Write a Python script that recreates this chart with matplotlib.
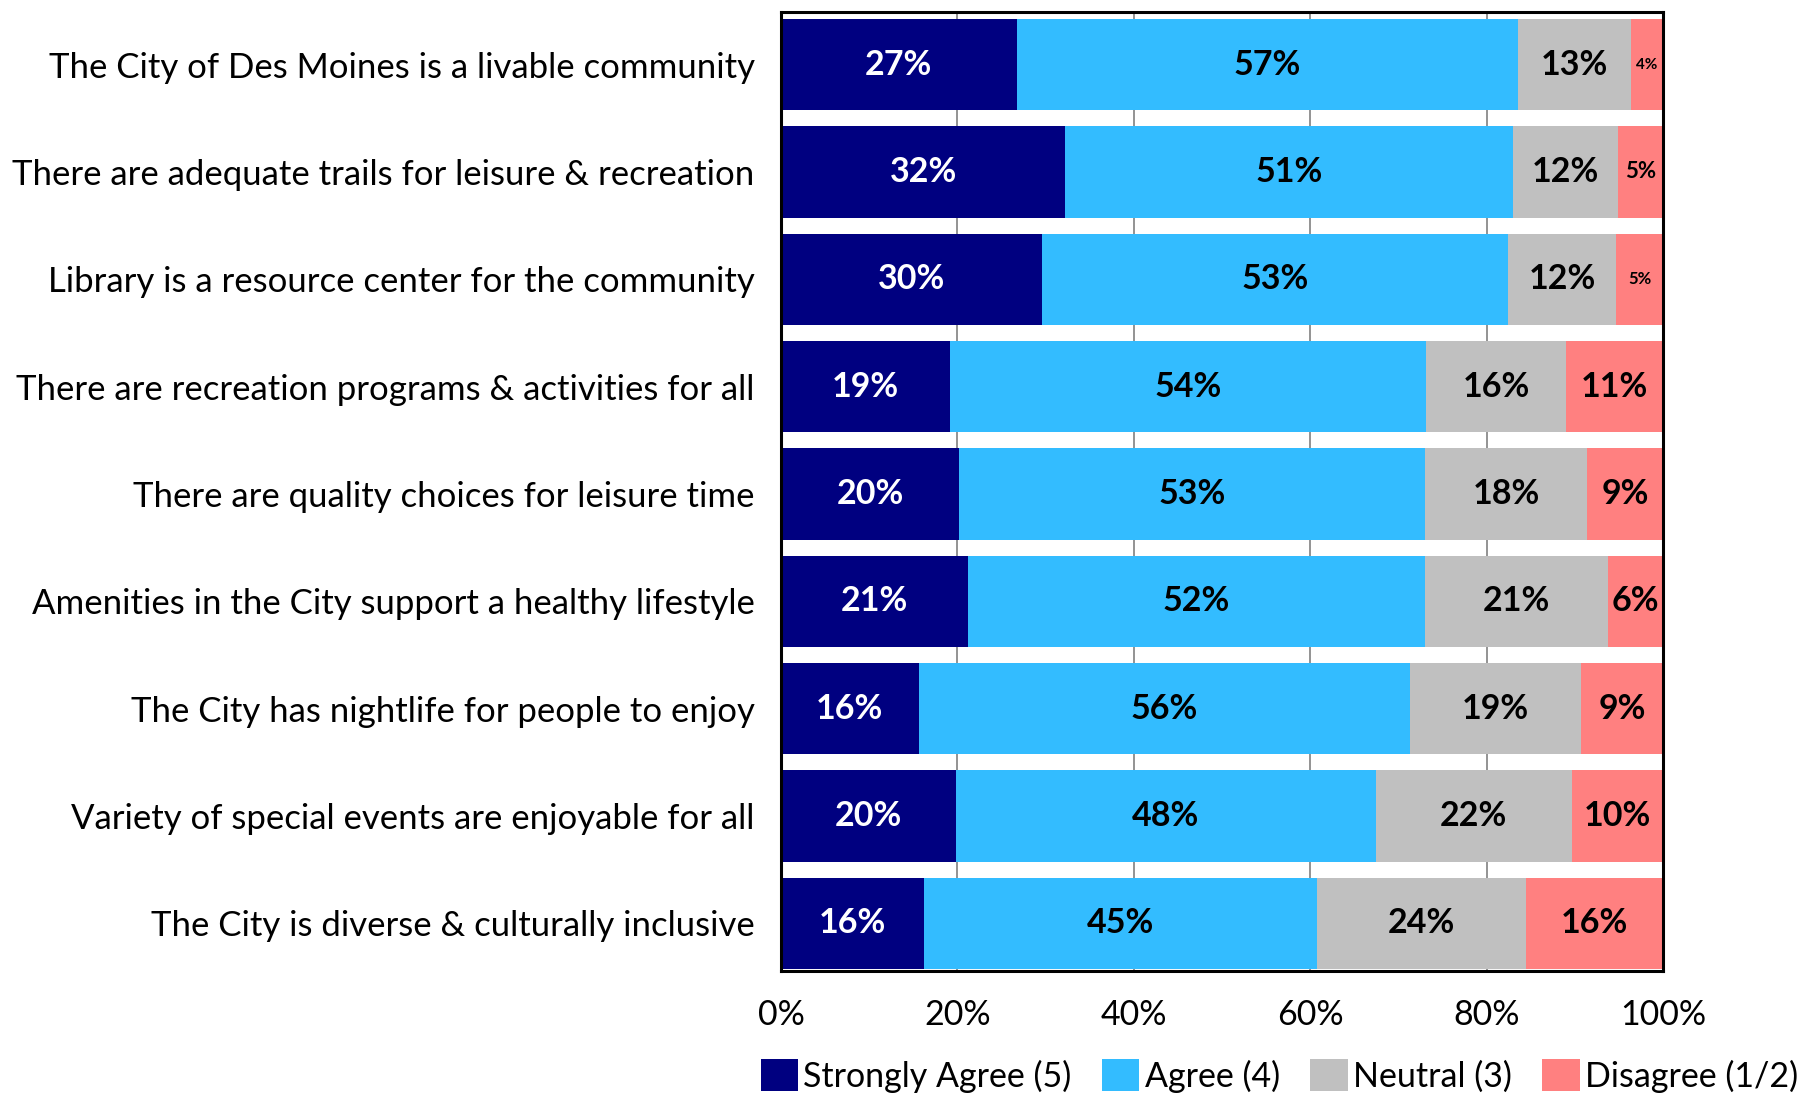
import numpy as np
import matplotlib.pyplot as plt
from matplotlib.patches import Patch

plt.rcParams['font.family'] = ['Lato', 'DejaVu Sans']

categories = [
    "The City of Des Moines is a livable community",
    "There are adequate trails for leisure & recreation",
    "Library is a resource center for the community",
    "There are recreation programs & activities for all",
    "There are quality choices for leisure time",
    "Amenities in the City support a healthy lifestyle",
    "The City has nightlife for people to enjoy",
    "Variety of special events are enjoyable for all",
    "The City is diverse & culturally inclusive",
]
strongly_agree = [26.7, 32.2, 29.6, 19.1, 20.2, 21.2, 15.6, 19.8, 16.2]
agree = [56.8, 50.8, 52.8, 54.0, 52.8, 51.8, 55.7, 47.6, 44.6]
neutral = [12.8, 11.8, 12.2, 15.9, 18.3, 20.7, 19.4, 22.2, 23.6]
disagree = [3.7, 5.2, 5.4, 11.0, 8.7, 6.3, 9.3, 10.4, 15.6]

series_names = ["Strongly Agree (5)", "Agree (4)", "Neutral (3)", "Disagree (1/2)"]
colors = ["#000080", "#33BCFF", "#C0C0C0", "#FF8080"]
text_colors = ["white", "black", "black", "black"]

fig = plt.figure(figsize=(18.12, 10.99), dpi=100)
ax = fig.add_axes([0.431, 0.1165, 0.487, 0.8725])

y = np.arange(len(categories))
left = np.zeros(len(categories))
for vals, name, col, tcol in zip([strongly_agree, agree, neutral, disagree],
                                 series_names, colors, text_colors):
    vals = np.array(vals)
    ax.barh(y, vals, left=left, height=0.85, color=col, label=name, zorder=2)
    for yi, (l, v) in enumerate(zip(left, vals)):
        size = 24.5
        if v < 5:
            size = 11
        elif v < 5.3:
            size = 16
        elif v < 6:
            size = 12
        ax.text(l + v / 2, yi, f"{round(v):d}%", ha='center', va='center',
                color=tcol, fontsize=size, fontweight='bold', zorder=3)
    left += vals

ax.set_xlim(0, 100)
ax.set_ylim(8.445, -0.49)
ax.set_yticks(y)
ax.set_yticklabels(categories, fontsize=25)
ax.set_xticks(np.arange(0, 101, 20))
ax.set_xticklabels([f"{v}%" for v in range(0, 101, 20)], fontsize=24.5)
ax.tick_params(axis='x', length=0, pad=20)
ax.tick_params(axis='y', length=0, pad=19)
ax.xaxis.grid(True, color='#808080', linewidth=1.2, zorder=0)
ax.set_axisbelow(True)
for s in ax.spines.values():
    s.set_linewidth(2.2)
    s.set_color('black')

handles = [Patch(facecolor=c) for c in colors]
fig.legend(handles, series_names, loc='lower center', ncol=4, frameon=False,
           fontsize=24.5, bbox_to_anchor=(0.706, -0.022), handlelength=1.1,
           handleheight=1.1, handletextpad=0.15, columnspacing=0.9)

fig.savefig("out.png", dpi=100)
